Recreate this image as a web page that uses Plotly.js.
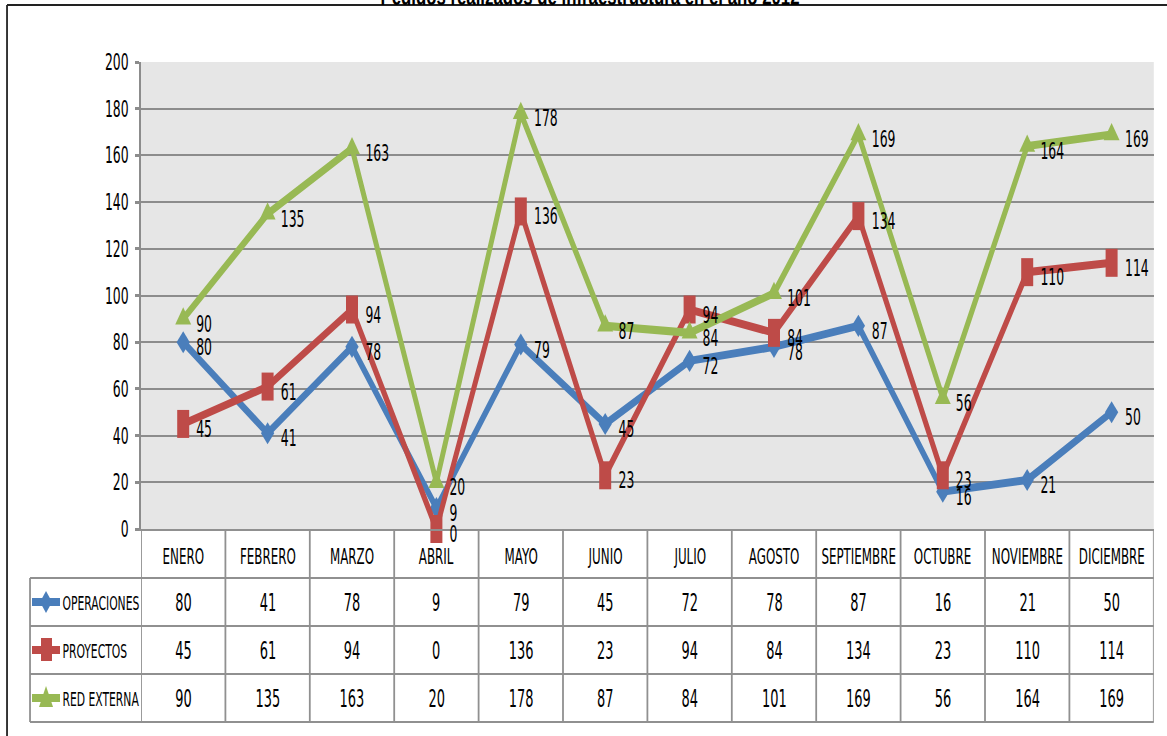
<!DOCTYPE html>
<html><head><meta charset="utf-8">
<script src="https://cdn.plot.ly/plotly-3.0.1.min.js"></script>
<style>
html,body{margin:0;padding:0;overflow:hidden;background:#fff;width:1167px;height:736px}
#chart{width:1945px;height:736px;transform:scaleX(0.6);transform-origin:0 0}
</style></head><body><div id="chart"></div>
<script>
// ---- data ----
const months = ['ENERO','FEBRERO','MARZO','ABRIL','MAYO','JUNIO','JULIO','AGOSTO','SEPTIEMBRE','OCTUBRE','NOVIEMBRE','DICIEMBRE'];
const operaciones = [80,41,78,9,79,45,72,78,87,16,21,50];
const proyectos = [45,61,94,0,136,23,94,84,134,23,110,114];
const redExterna = [90,135,163,20,178,87,84,101,169,56,164,169];
const seriesNames = ['OPERACIONES','PROYECTOS','RED EXTERNA'];
const yTicks = [0,20,40,60,80,100,120,140,160,180,200];
const titleText = 'Pedidos realizados de infraestructura en el año 2012';

// ---- style ----
const S = 0.6;                 // horizontal squeeze applied by CSS
const W = 1167 / S, H = 736;
const colors = ['#4a7ebb', '#be4b48', '#98b954'];
const NARROW = "'Liberation Sans Narrow', 'DejaVu Sans Condensed', 'Liberation Sans', sans-serif";
const SANS = "'Liberation Sans', Arial, sans-serif";
const GRID = '#8c8c8c', TAB = '#909090';
const L = 141, R = 1154, T = 62, B = 529;   // plot area in screen px
const px = x => (x - L) / (R - L);
const py = y => (B - y) / (B - T);

const allSeries = [operaciones, proyectos, redExterna];
const markerDefs = [
  {symbol: 'diamond', size: 17},
  {symbol: 'line-ns-open', size: 20, line: {width: 20}},
  {symbol: 'triangle-up', size: 23}
];

const traces = allSeries.map((vals, i) => ({
  type: 'scatter', mode: 'lines+markers', name: seriesNames[i],
  x: months, y: vals, cliponaxis: false,
  line: {color: colors[i], width: 8},
  marker: Object.assign({color: colors[i]}, markerDefs[i]),
  hoverinfo: 'skip'
}));

const annotations = [];
// data labels
allSeries.forEach((vals, i) => vals.forEach((v, j) => annotations.push({
  x: months[j], y: v, xref: 'x', yref: 'y', text: String(v), showarrow: false,
  xanchor: 'left', yanchor: 'middle', xshift: 20, yshift: -5,
  font: {family: NARROW, size: 23, color: '#000'}
})));
// table header
months.forEach(m => annotations.push({
  x: m, y: py(556), xref: 'x', yref: 'paper', text: m, showarrow: false,
  xanchor: 'center', yanchor: 'middle', font: {family: NARROW, size: 22, color: '#000'}
}));
// table rows
const rowCenters = [603, 651, 699];
allSeries.forEach((vals, i) => {
  annotations.push({
    x: px(61), y: py(rowCenters[i]), xref: 'paper', yref: 'paper', text: seriesNames[i],
    showarrow: false, xanchor: 'left', yanchor: 'middle',
    font: {family: NARROW, size: 20, color: '#000'}
  });
  vals.forEach((v, j) => annotations.push({
    x: months[j], y: py(rowCenters[i]), xref: 'x', yref: 'paper', text: String(v),
    showarrow: false, xanchor: 'center', yanchor: 'middle',
    font: {family: NARROW, size: 24, color: '#000'}
  }));
});
// title (cut off at the top, as in the original)
annotations.push({
  x: px(590), y: py(13), xref: 'paper', yref: 'paper', text: '<b>' + titleText + '</b>',
  showarrow: false, xanchor: 'center', yanchor: 'bottom',
  font: {family: SANS, size: 28, color: '#000'}
});

const shapes = [];
// horizontal table lines
[578, 626, 674, 722].forEach(y => shapes.push({
  type: 'line', xref: 'paper', yref: 'paper', x0: px(30), x1: 1, y0: py(y), y1: py(y),
  line: {color: TAB, width: 2}
}));
// vertical table lines
for (let j = 0; j <= months.length; j++) shapes.push({
  type: 'line', xref: 'x', yref: 'paper', x0: j - 0.5, x1: j - 0.5, y0: 0, y1: py(722),
  line: {color: TAB, width: 3}
});
shapes.push({type: 'line', xref: 'paper', yref: 'paper', x0: px(30), x1: px(30), y0: py(578), y1: py(722),
  line: {color: TAB, width: 3}});
// outer frame (cropped)
shapes.push({type: 'line', xref: 'paper', yref: 'paper', x0: px(7), x1: px(1180), y0: py(5), y1: py(5),
  line: {color: '#222', width: 2}});
shapes.push({type: 'line', xref: 'paper', yref: 'paper', x0: px(7), x1: px(7), y0: py(5), y1: py(745),
  line: {color: '#222', width: 3}});
// legend keys in the table
rowCenters.forEach((cy, i) => {
  const c = cy - 1;
  shapes.push({type: 'line', xref: 'paper', yref: 'paper', x0: px(32), x1: px(60), y0: py(c), y1: py(c),
    line: {color: colors[i], width: 8}});
  let path;
  if (i === 0) path = `M${px(46)},${py(c-11)} L${px(52)},${py(c)} L${px(46)},${py(c+11)} L${px(40)},${py(c)} Z`;
  else if (i === 1) path = `M${px(41)},${py(c-12)} L${px(52)},${py(c-12)} L${px(52)},${py(c+11)} L${px(41)},${py(c+11)} Z`;
  else path = `M${px(46)},${py(c-12)} L${px(53)},${py(c+9)} L${px(39)},${py(c+9)} Z`;
  shapes.push({type: 'path', xref: 'paper', yref: 'paper', path: path,
    fillcolor: colors[i], line: {width: 0}});
});

const layout = {
  width: W, height: H,
  margin: {l: L / S, r: (1167 - R) / S, t: T, b: H - B, pad: 0},
  paper_bgcolor: '#ffffff', plot_bgcolor: '#e6e6e6',
  showlegend: false,
  xaxis: {type: 'category', range: [-0.5, months.length - 0.5], showticklabels: false,
    showgrid: false, zeroline: false, showline: true, linecolor: TAB, linewidth: 2, ticks: '',
    fixedrange: true},
  yaxis: {range: [0, 200], tickvals: yTicks, ticktext: yTicks.map(String), ticks: 'outside', ticklen: 7,
    tickwidth: 3, tickcolor: GRID, showline: true, linecolor: GRID, linewidth: 3,
    showgrid: true, gridcolor: GRID, gridwidth: 2, zeroline: false, ticklabelstandoff: 6,
    tickfont: {family: NARROW, size: 23, color: '#000'}, fixedrange: true},
  annotations: annotations, shapes: shapes
};

Plotly.newPlot('chart', traces, layout, {displayModeBar: false, staticPlot: true});
</script></body></html>
